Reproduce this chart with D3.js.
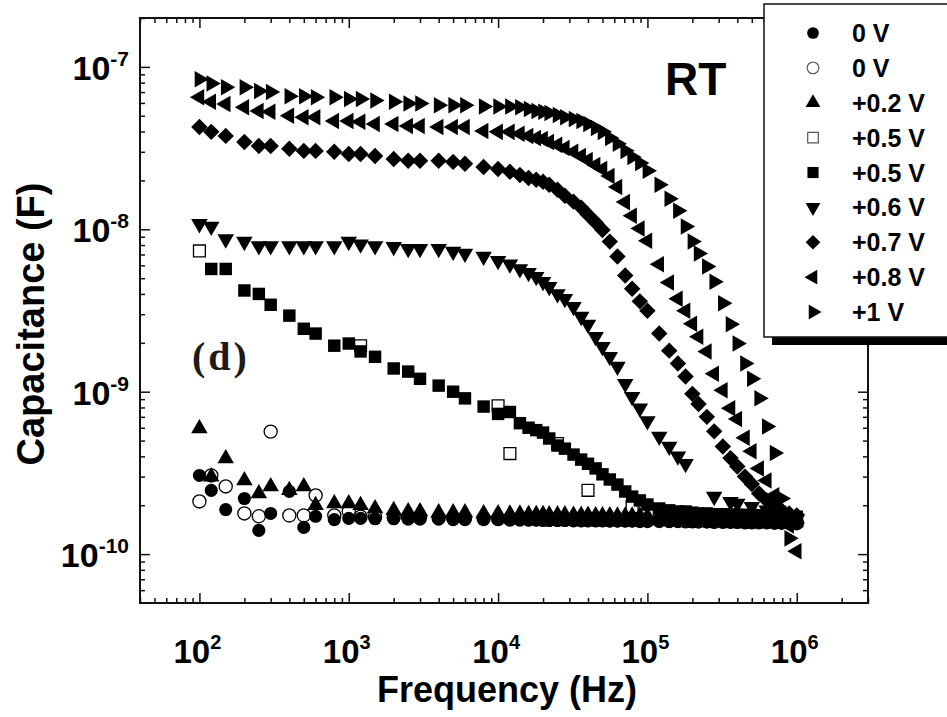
<!DOCTYPE html>
<html>
<head>
<meta charset="utf-8">
<title>Capacitance vs frequency</title>
<script src="https://cdn.jsdelivr.net/npm/d3@7"></script>
<style>
  html, body { margin: 0; padding: 0; background: #fff; }
  svg { display: block; }
  text { font-family: "Liberation Sans", Arial, sans-serif; font-weight: bold; fill: #000; }
</style>
</head>
<body>
<div id="chart"></div>
<script>
// measurement frequencies (Hz), shared by all series
var freqHz = [100, 120, 150, 200, 250, 300, 400, 500, 600, 800,
  1000, 1200, 1500, 2000, 2500, 3000, 4000, 5000, 6000, 8000,
  10000, 12000, 14000, 16000, 18000, 20000, 22000, 25000, 28000, 32000, 36000, 40000, 45000, 50000, 56000, 63000, 71000, 79000, 89000,
  100000, 120000, 140000, 160000, 180000, 200000, 220000, 250000, 280000, 320000, 360000, 400000, 450000, 500000, 560000, 630000, 710000, 790000, 890000, 1000000];

// capacitance (F) per bias, null = no visible point
var cap0Vfilled = [3.05e-10, 2.47e-10, 1.88e-10, 2.2e-10, 1.4e-10, 1.78e-10, 2.43e-10, 1.46e-10, 1.71e-10, 1.63e-10,
  1.66e-10, 1.66e-10, 1.65e-10, 1.65e-10, 1.64e-10, 1.64e-10, 1.64e-10, 1.63e-10, 1.63e-10, 1.63e-10,
  1.63e-10, 1.62e-10, 1.62e-10, 1.62e-10, 1.62e-10, 1.61e-10, 1.61e-10, 1.61e-10, 1.61e-10, 1.6e-10, 1.6e-10, 1.6e-10, 1.6e-10, 1.6e-10, 1.6e-10, 1.6e-10, 1.6e-10, 1.6e-10, 1.6e-10,
  1.6e-10, 1.6e-10, 1.59e-10, 1.59e-10, 1.59e-10, 1.59e-10, 1.58e-10, 1.58e-10, 1.58e-10, 1.58e-10, 1.58e-10, 1.57e-10, 1.57e-10, 1.57e-10, 1.57e-10, 1.57e-10, 1.56e-10, 1.56e-10, 1.56e-10, 1.56e-10];
var cap0Vopen = [2.11e-10, 3.05e-10, 2.61e-10, 1.78e-10, 1.71e-10, 5.68e-10, 1.73e-10, 1.73e-10, 2.3e-10, 1.73e-10,
  1.83e-10, 1.7e-10, 1.7e-10, 1.69e-10, 1.68e-10, 1.68e-10, 1.67e-10, 1.67e-10, 1.66e-10, 1.66e-10,
  1.65e-10, 1.65e-10, 1.65e-10, 1.64e-10, 1.64e-10, 1.64e-10, 1.63e-10, 1.63e-10, 1.63e-10, 1.63e-10, 1.62e-10, 1.62e-10, 1.62e-10, 1.62e-10, 1.61e-10, 1.61e-10, 1.61e-10, 1.61e-10, 1.6e-10,
  1.6e-10, 1.6e-10, 1.6e-10, 1.6e-10, 1.59e-10, 1.59e-10, 1.59e-10, 1.59e-10, 1.58e-10, 1.58e-10, 1.58e-10, 1.58e-10, 1.57e-10, 1.57e-10, 1.57e-10, 1.57e-10, 1.56e-10, 1.56e-10, 1.56e-10, 1.55e-10];
var cap02V = [5.93e-10, 3.0e-10, 3.88e-10, 2.84e-10, 2.36e-10, 2.61e-10, 2.47e-10, 2.61e-10, 2.0e-10, 2.05e-10,
  2.05e-10, 2.0e-10, 1.91e-10, 1.86e-10, 1.83e-10, 1.83e-10, 1.8e-10, 1.8e-10, 1.8e-10, 1.78e-10,
  1.78e-10, 1.77e-10, 1.77e-10, 1.76e-10, 1.76e-10, 1.76e-10, 1.75e-10, 1.75e-10, 1.75e-10, 1.74e-10, 1.74e-10, 1.74e-10, 1.73e-10, 1.73e-10, 1.73e-10, 1.72e-10, 1.72e-10, 1.72e-10, 1.72e-10,
  1.71e-10, 1.71e-10, 1.71e-10, 1.7e-10, 1.7e-10, 1.7e-10, 1.7e-10, 1.69e-10, 1.69e-10, 1.69e-10, 1.68e-10, 1.68e-10, 1.68e-10, 1.67e-10, 1.67e-10, 1.67e-10, 1.66e-10, 1.66e-10, 1.66e-10, 1.65e-10];
var cap05Vopen = [7.36e-9, null, null, null, null, null, null, null, null, null,
  null, 1.92e-9, null, null, null, null, null, null, null, null,
  8.2e-10, 4.16e-10, null, null, null, null, null, 4.8e-10, null, null, null, 2.47e-10, null, null, null, null, null, 1.96e-10, null,
  null, 1.7e-10, null, null, null, null, 1.65e-10, null, null, null, null, 1.65e-10, null, null, null, null, 1.62e-10, null, null, 1.6e-10];
var cap05V = [null, 5.7e-9, 5.7e-9, 4.2e-9, 4.0e-9, 3.43e-9, 2.94e-9, 2.44e-9, 2.28e-9, 1.92e-9,
  1.98e-9, 1.77e-9, 1.64e-9, 1.39e-9, 1.33e-9, 1.2e-9, 1.09e-9, 1.0e-9, 9.1e-10, 8.1e-10,
  7.3e-10, 7.5e-10, 6.4e-10, 6.0e-10, 5.8e-10, 5.6e-10, 5.15e-10, 4.66e-10, 4.46e-10, 4.1e-10, 3.82e-10, 3.6e-10, 3.37e-10, 3.1e-10, 2.88e-10, 2.68e-10, 2.43e-10, 2.26e-10, 2.14e-10,
  2.02e-10, 1.91e-10, 1.86e-10, 1.83e-10, 1.83e-10, 1.8e-10, 1.78e-10, 1.78e-10, 1.76e-10, 1.76e-10, 1.75e-10, 1.75e-10, 1.74e-10, 1.74e-10, 1.73e-10, 1.73e-10, 1.72e-10, 1.72e-10, 1.71e-10, 1.7e-10];
var cap06V = [1.08e-8, 1.04e-8, 8.7e-9, 8.4e-9, 7.9e-9, 7.9e-9, 7.9e-9, 7.9e-9, 7.9e-9, 7.9e-9,
  8.4e-9, 8.1e-9, 7.9e-9, 7.8e-9, 7.6e-9, 7.6e-9, 7.6e-9, 7.3e-9, 7.1e-9, 6.8e-9,
  6.4e-9, 6.1e-9, 5.7e-9, 5.4e-9, 5.1e-9, 4.75e-9, 4.43e-9, 4.0e-9, 3.74e-9, 3.34e-9, 2.9e-9, 2.59e-9, 2.18e-9, 1.89e-9, 1.64e-9, 1.43e-9, 1.12e-9, 9.3e-10, 7.9e-10,
  6.6e-10, 5.3e-10, 4.6e-10, 4.0e-10, 3.6e-10, null, null, null, 2.26e-10, null, 2.1e-10, 2.05e-10, null, 1.96e-10, null, 1.86e-10, null, 1.78e-10, null, 1.66e-10];
var cap07V = [4.26e-8, 3.98e-8, 3.76e-8, 3.45e-8, 3.26e-8, 3.26e-8, 3.13e-8, 3.04e-8, 3.04e-8, 3.0e-8,
  2.91e-8, 2.91e-8, 2.83e-8, 2.71e-8, 2.64e-8, 2.64e-8, 2.64e-8, 2.6e-8, 2.53e-8, 2.42e-8,
  2.35e-8, 2.26e-8, 2.16e-8, 2.07e-8, 2.02e-8, 1.96e-8, 1.88e-8, 1.75e-8, 1.61e-8, 1.48e-8, 1.36e-8, 1.23e-8, 1.1e-8, 9.9e-9, 8.4e-9, 6.8e-9, 5.2e-9, 4.3e-9, 3.6e-9,
  3.15e-9, 2.28e-9, 1.79e-9, 1.49e-9, 1.24e-9, 9.7e-10, 8.4e-10, 7.0e-10, 5.7e-10, 4.6e-10, 3.9e-10, 3.46e-10, 3.0e-10, 2.7e-10, 2.36e-10, 2.14e-10, 1.96e-10, 1.86e-10, 1.78e-10, 1.73e-10];
var cap08V = [6.5e-8, 6.1e-8, 5.9e-8, 5.65e-8, 5.35e-8, 5.3e-8, 5.0e-8, 4.9e-8, 4.9e-8, 4.65e-8,
  4.65e-8, 4.6e-8, 4.45e-8, 4.45e-8, 4.33e-8, 4.33e-8, 4.27e-8, 4.27e-8, 4.27e-8, 4.03e-8,
  3.98e-8, 3.98e-8, 3.87e-8, 3.76e-8, 3.65e-8, 3.6e-8, 3.45e-8, 3.31e-8, 3.17e-8, 3.0e-8, 2.83e-8, 2.67e-8, 2.49e-8, 2.35e-8, 2.13e-8, 1.82e-8, 1.47e-8, 1.21e-8, 1.01e-8,
  8.5e-9, 6.1e-9, 4.7e-9, 3.74e-9, 3.15e-9, 2.62e-9, 2.18e-9, 1.77e-9, 1.29e-9, 1.02e-9, 7.9e-10, 6.8e-10, 5.2e-10, 4.3e-10, 3.37e-10, 2.84e-10, 2.3e-10, 1.78e-10, 1.5e-10, 1.04e-10];
var cap1V = [8.4e-8, 7.9e-8, 7.5e-8, 7.5e-8, 7.1e-8, 7.0e-8, 6.6e-8, 6.6e-8, 6.5e-8, 6.5e-8,
  6.35e-8, 6.35e-8, 6.2e-8, 6.1e-8, 5.95e-8, 5.95e-8, 5.8e-8, 5.8e-8, 5.8e-8, 5.7e-8,
  5.7e-8, 5.7e-8, 5.65e-8, 5.5e-8, 5.35e-8, 5.3e-8, 5.2e-8, 5.05e-8, 4.9e-8, 4.78e-8, 4.65e-8, 4.45e-8, 4.2e-8, 3.98e-8, 3.65e-8, 3.36e-8, 3.04e-8, 2.79e-8, 2.56e-8,
  2.29e-8, 1.88e-8, 1.54e-8, 1.3e-8, 1.04e-8, 8.4e-9, 7.1e-9, 5.9e-9, 4.75e-9, 3.5e-9, 2.6e-9, 1.98e-9, 1.49e-9, 1.2e-9, 9.1e-10, 6.1e-10, 4.2e-10, 2.2e-10, 1.25e-10, null];

var seriesLabels = ['0 V', '0 V', '+0.2 V', '+0.5 V', '+0.5 V', '+0.6 V', '+0.7 V', '+0.8 V', '+1 V'];
var xTickExps = [2, 3, 4, 5, 6];
var yTickExps = [-10, -9, -8, -7];

(function() {
  var width = 947;
  var height = 717;
  var plot = { left: 140, right: 868, top: 18, bottom: 603 };

  // marker styles in legend order
  var markers = [
    { values: cap0Vfilled, shape: d3.symbolCircle, size: 135, rotate: 0, filled: true },
    { values: cap0Vopen, shape: d3.symbolCircle, size: 135, rotate: 0, filled: false },
    { values: cap02V, shape: d3.symbolTriangle, size: 118, rotate: 0, filled: true },
    { values: cap05Vopen, shape: d3.symbolSquare, size: 140, rotate: 0, filled: false },
    { values: cap05V, shape: d3.symbolSquare, size: 155, rotate: 0, filled: true },
    { values: cap06V, shape: d3.symbolTriangle, size: 118, rotate: 180, filled: true },
    { values: cap07V, shape: d3.symbolSquare, size: 135, rotate: 45, filled: true },
    { values: cap08V, shape: d3.symbolTriangle, size: 118, rotate: -90, filled: true },
    { values: cap1V, shape: d3.symbolTriangle, size: 118, rotate: 90, filled: true }
  ];

  var svg = d3.select('#chart').append('svg')
    .attr('width', width)
    .attr('height', height);

  var x = d3.scaleLog().domain([40, 3e6]).range([plot.left, plot.right]);
  var y = d3.scaleLog().domain([5e-11, 2e-7]).range([plot.bottom, plot.top]);

  drawAxes();
  drawSeries();
  drawLabels();
  drawLegend();

  /*
   * Frame with inward major/minor ticks on all four sides
   */
  function drawAxes() {
    var xMajor = xTickExps.map(function(e) { return Math.pow(10, e); });
    var xMinor = minorTicks(x.domain());
    var yMajor = yTickExps.map(function(e) { return Math.pow(10, e); });
    var yMinor = minorTicks(y.domain());
    var axes = svg.append('g').attr('class', 'axes');

    var sides = [
      { axis: d3.axisTop, scale: x, transform: 'translate(0,' + plot.bottom + ')' },
      { axis: d3.axisBottom, scale: x, transform: 'translate(0,' + plot.top + ')' },
      { axis: d3.axisRight, scale: y, transform: 'translate(' + plot.left + ',0)' },
      { axis: d3.axisLeft, scale: y, transform: 'translate(' + plot.right + ',0)' }
    ];
    sides.forEach(function(s) {
      var isX = s.scale === x;
      var g = axes.append('g').attr('transform', s.transform);
      g.append('g').call(s.axis(s.scale).tickValues(isX ? xMinor : yMinor).tickSize(5).tickFormat(''));
      g.append('g').call(s.axis(s.scale).tickValues(isX ? xMajor : yMajor).tickSize(10).tickFormat(''));
      g.selectAll('.domain').remove();
      g.selectAll('.tick line').attr('stroke', '#111').attr('stroke-width', 1.5);
    });

    axes.append('rect')
      .attr('x', plot.left)
      .attr('y', plot.top)
      .attr('width', plot.right - plot.left)
      .attr('height', plot.bottom - plot.top)
      .attr('fill', 'none')
      .attr('stroke', '#111')
      .attr('stroke-width', 2);
  }

  // 2..9 x each decade that falls inside the domain
  function minorTicks(domain) {
    var lo = Math.floor(Math.log10(domain[0]));
    var hi = Math.ceil(Math.log10(domain[1]));
    var ticks = [];
    for (var e = lo; e <= hi; e++) {
      for (var m = 2; m <= 9; m++) {
        var v = m * Math.pow(10, e);
        if (v >= domain[0] && v <= domain[1]) {
          ticks.push(v);
        }
      }
    }
    return ticks;
  }

  function markerPath(m, scale) {
    return d3.symbol().type(m.shape).size(m.size * (scale || 1))();
  }

  /*
   * Scatter points for every bias
   */
  function drawSeries() {
    var layer = svg.append('g').attr('class', 'series');
    markers.forEach(function(m, i) {
      var pts = freqHz.map(function(f, j) {
        return { f: f, c: m.values[j] };
      }).filter(function(d) { return d.c != null; });

      layer.append('g').attr('class', 'series-' + i)
        .selectAll('path')
        .data(pts)
        .enter().append('path')
        .attr('d', markerPath(m))
        .attr('transform', function(d) {
          return 'translate(' + x(d.f) + ',' + y(d.c) + ') rotate(' + m.rotate + ')';
        })
        .attr('fill', m.filled ? '#000' : 'none')
        .attr('stroke', '#000')
        .attr('stroke-width', m.filled ? 0 : 1.3);
    });
  }

  /*
   * Tick labels, axis titles and annotations
   */
  function drawLabels() {
    var xl = svg.append('g').attr('class', 'x-labels');
    xTickExps.forEach(function(e) {
      var t = xl.append('text')
        .attr('x', x(Math.pow(10, e)) - 2)
        .attr('y', 663)
        .attr('text-anchor', 'middle')
        .attr('font-size', 33);
      t.append('tspan').text('10');
      t.append('tspan').attr('dy', -14).attr('font-size', 20).text(e);
    });

    var yl = svg.append('g').attr('class', 'y-labels');
    yTickExps.forEach(function(e) {
      var t = yl.append('text')
        .attr('x', 129)
        .attr('y', y(Math.pow(10, e)) + 13)
        .attr('text-anchor', 'end')
        .attr('font-size', 34);
      t.append('tspan').text('10');
      t.append('tspan').attr('dy', -14).attr('font-size', 21).text(e);
    });

    svg.append('text')
      .attr('x', 507)
      .attr('y', 702)
      .attr('text-anchor', 'middle')
      .attr('font-size', 36)
      .text('Frequency (Hz)');

    svg.append('text')
      .attr('transform', 'translate(44,324) rotate(-90)')
      .attr('text-anchor', 'middle')
      .attr('font-size', 38)
      .text('Capacitance (F)');

    svg.append('text')
      .attr('x', 665)
      .attr('y', 95)
      .attr('font-size', 46)
      .text('RT');

    svg.append('text')
      .attr('x', 192)
      .attr('y', 370)
      .attr('font-size', 40)
      .attr('letter-spacing', 3)
      .style('font-family', '"Liberation Serif", "Times New Roman", serif')
      .style('fill', '#1f1a14')
      .text('(d)');
  }

  /*
   * Legend box with drop shadow
   */
  function drawLegend() {
    var box = { x: 764, y: 4, w: 200, h: 333 };
    var legend = svg.append('g').attr('class', 'legend');
    legend.append('rect')
      .attr('x', box.x + 8).attr('y', box.y + 8)
      .attr('width', box.w).attr('height', box.h)
      .attr('fill', '#000');
    legend.append('rect')
      .attr('x', box.x).attr('y', box.y)
      .attr('width', box.w).attr('height', box.h)
      .attr('fill', '#fff')
      .attr('stroke', '#111')
      .attr('stroke-width', 1.5);

    var rowY = d3.scaleLinear().domain([0, seriesLabels.length - 1]).range([33, 312]);
    var items = legend.selectAll('.legend-item')
      .data(seriesLabels)
      .enter().append('g')
      .attr('class', 'legend-item')
      .attr('transform', function(d, i) { return 'translate(0,' + rowY(i) + ')'; });

    items.append('path')
      .attr('d', function(d, i) { return markerPath(markers[i], 0.8); })
      .attr('transform', function(d, i) { return 'translate(813,0) rotate(' + markers[i].rotate + ')'; })
      .attr('fill', function(d, i) { return markers[i].filled ? '#000' : 'none'; })
      .attr('stroke', function(d, i) { return markers[i].filled ? 'none' : '#555'; })
      .attr('stroke-width', 1.2);

    items.append('text')
      .attr('x', 852)
      .attr('y', 9)
      .attr('font-size', 25)
      .text(function(d) { return d; });
  }
}).call(this);
</script>
</body>
</html>
